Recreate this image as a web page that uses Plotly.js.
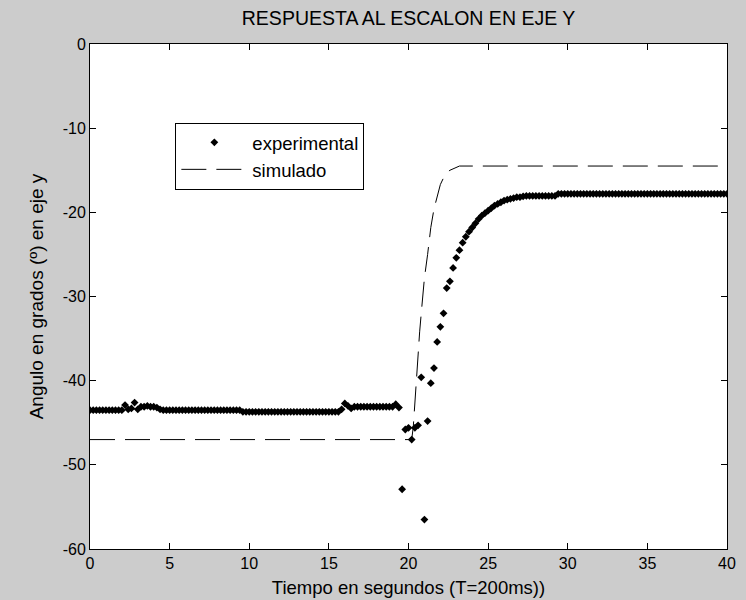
<!DOCTYPE html>
<html>
<head>
<meta charset="utf-8">
<script src="https://cdn.plot.ly/plotly-3.0.1.min.js"></script>
<style>html,body{margin:0;padding:0;background:#cccccc;}</style>
</head>
<body>
<div id="chart" style="width:746px;height:600px;"></div>
<script>
// Experimental samples, T = 200 ms
const expTime = [
  0.0,0.2,0.4,0.6,0.8,1.0,1.2,1.4,1.6,1.8,2.0,2.2,2.4,2.6,2.8,3.0,3.2,3.4,3.6,3.8,
  4.0,4.2,4.4,4.6,4.8,5.0,5.2,5.4,5.6,5.8,6.0,6.2,6.4,6.6,6.8,7.0,7.2,7.4,7.6,7.8,
  8.0,8.2,8.4,8.6,8.8,9.0,9.2,9.4,9.6,9.8,10.0,10.2,10.4,10.6,10.8,11.0,11.2,11.4,11.6,11.8,
  12.0,12.2,12.4,12.6,12.8,13.0,13.2,13.4,13.6,13.8,14.0,14.2,14.4,14.6,14.8,15.0,15.2,15.4,15.6,15.8,
  16.0,16.2,16.4,16.6,16.8,17.0,17.2,17.4,17.6,17.8,18.0,18.2,18.4,18.6,18.8,19.0,19.2,19.4,19.6,19.8,
  20.0,20.2,20.4,20.6,20.8,21.0,21.2,21.4,21.6,21.8,22.0,22.2,22.4,22.6,22.8,23.0,23.2,23.4,23.6,23.8,
  24.0,24.2,24.4,24.6,24.8,25.0,25.2,25.4,25.6,25.8,26.0,26.2,26.4,26.6,26.8,27.0,27.2,27.4,27.6,27.8,
  28.0,28.2,28.4,28.6,28.8,29.0,29.2,29.4,29.6,29.8,30.0,30.2,30.4,30.6,30.8,31.0,31.2,31.4,31.6,31.8,
  32.0,32.2,32.4,32.6,32.8,33.0,33.2,33.4,33.6,33.8,34.0,34.2,34.4,34.6,34.8,35.0,35.2,35.4,35.6,35.8,
  36.0,36.2,36.4,36.6,36.8,37.0,37.2,37.4,37.6,37.8,38.0,38.2,38.4,38.6,38.8,39.0,39.2,39.4,39.6,39.8,
  40.0
];
const expAngle = [
  -43.5,-43.5,-43.5,-43.5,-43.5,-43.5,-43.5,-43.5,-43.5,-43.5,-43.5,-42.9,-43.4,-43.3,-42.6,-43.4,-43.1,-43.1,-43.0,-43.1,
  -43.1,-43.2,-43.4,-43.5,-43.5,-43.5,-43.5,-43.5,-43.5,-43.5,-43.5,-43.5,-43.5,-43.5,-43.5,-43.5,-43.5,-43.5,-43.5,-43.5,
  -43.5,-43.5,-43.5,-43.5,-43.5,-43.5,-43.5,-43.5,-43.7,-43.7,-43.7,-43.7,-43.7,-43.7,-43.7,-43.7,-43.7,-43.7,-43.7,-43.7,
  -43.7,-43.7,-43.7,-43.7,-43.7,-43.7,-43.7,-43.7,-43.7,-43.7,-43.7,-43.7,-43.7,-43.7,-43.7,-43.7,-43.7,-43.7,-43.7,-43.4,
  -42.7,-43.0,-43.3,-43.1,-43.1,-43.1,-43.1,-43.1,-43.1,-43.1,-43.1,-43.1,-43.1,-43.1,-43.1,-43.1,-42.8,-43.2,-52.9,-45.8,
  -45.6,-47.0,-45.6,-45.3,-39.6,-56.5,-44.8,-40.3,-38.5,-35.4,-33.6,-32.0,-29.0,-28.2,-26.6,-25.4,-24.5,-23.6,-22.9,-22.3,
  -21.8,-21.3,-20.8,-20.4,-20.1,-19.8,-19.5,-19.2,-19.0,-18.8,-18.6,-18.5,-18.4,-18.3,-18.2,-18.2,-18.1,-18.05,-18.05,-18.05,
  -18.05,-18.05,-18.05,-18.05,-18.05,-18.05,-18.05,-17.8,-17.8,-17.8,-17.8,-17.8,-17.8,-17.8,-17.8,-17.8,-17.8,-17.8,-17.8,-17.8,
  -17.8,-17.8,-17.8,-17.8,-17.8,-17.8,-17.8,-17.8,-17.8,-17.8,-17.8,-17.8,-17.8,-17.8,-17.8,-17.8,-17.8,-17.8,-17.8,-17.8,
  -17.8,-17.8,-17.8,-17.8,-17.8,-17.8,-17.8,-17.8,-17.8,-17.8,-17.8,-17.8,-17.8,-17.8,-17.8,-17.8,-17.8,-17.8,-17.8,-17.8,
  -17.8
];
// Simulated response
const simTime  = [0, 20.2, 20.3, 20.4, 20.5, 20.6, 20.7, 20.8, 20.9, 21.0, 21.2, 21.4, 21.6, 21.8, 22.0, 22.2, 22.4, 22.6, 22.8, 23.0, 23.2, 40];
const simAngle = [-47.0, -47.0, -45.5, -42.5, -40.0, -37.0, -34.2, -32.0, -29.3, -27.8, -25.0, -21.8, -19.6, -18.0, -16.7, -15.9, -15.3, -15.0, -14.8, -14.6, -14.5, -14.5];

const xTicks = [0, 5, 10, 15, 20, 25, 30, 35, 40];
const yTicks = [-60, -50, -40, -30, -20, -10, 0];

const FONT = 'Arial, "Liberation Sans", sans-serif';

const traces = [
  {
    x: expTime, y: expAngle, name: 'experimental', type: 'scatter', mode: 'markers',
    marker: {symbol: 'diamond', size: 6, color: '#000000'},
    legendgroup: 'a'
  },
  {
    x: simTime, y: simAngle, name: 'simulado', type: 'scatter', mode: 'lines',
    line: {color: '#000000', width: 1, dash: '25px,10px'},
    legendgroup: 'b'
  }
];

const axisCommon = {
  showline: true, linecolor: '#000000', linewidth: 1, mirror: 'ticks',
  ticks: 'inside', ticklen: 6, tickcolor: '#000000', tickwidth: 1,
  showgrid: false, zeroline: false,
  tickfont: {family: FONT, size: 16, color: '#000000'}
};

const layout = {
  width: 746, height: 600,
  paper_bgcolor: '#cccccc', plot_bgcolor: '#ffffff',
  margin: {l: 90, r: 19, t: 44, b: 51},
  title: {text: 'RESPUESTA AL ESCALON EN EJE Y', font: {family: FONT, size: 19.5, color: '#000000'},
          x: 0.5, xref: 'paper', y: 0.97, yref: 'container', yanchor: 'middle'},
  xaxis: Object.assign({}, axisCommon, {
    range: [0, 40], tickvals: xTicks, ticktext: xTicks.map(String),
    title: {text: 'Tiempo en segundos (T=200ms))', font: {family: FONT, size: 18.5, color: '#000000'}, standoff: 9}
  }),
  yaxis: Object.assign({}, axisCommon, {
    range: [-60, 0], tickvals: yTicks, ticktext: yTicks.map(String),
    title: {text: 'Angulo en grados (º) en eje y', font: {family: FONT, size: 19, color: '#000000'}, standoff: 14}
  }),
  showlegend: true,
  legend: {
    x: 0.134, y: 0.844, xanchor: 'left', yanchor: 'top',
    bgcolor: '#ffffff', bordercolor: '#000000', borderwidth: 1,
    font: {family: FONT, size: 18.5, color: '#000000'},
    traceorder: 'grouped', tracegroupgap: 0, itemwidth: 66
  }
};

Plotly.newPlot('chart', traces, layout, {displayModeBar: false, staticPlot: true});
</script>
</body>
</html>
